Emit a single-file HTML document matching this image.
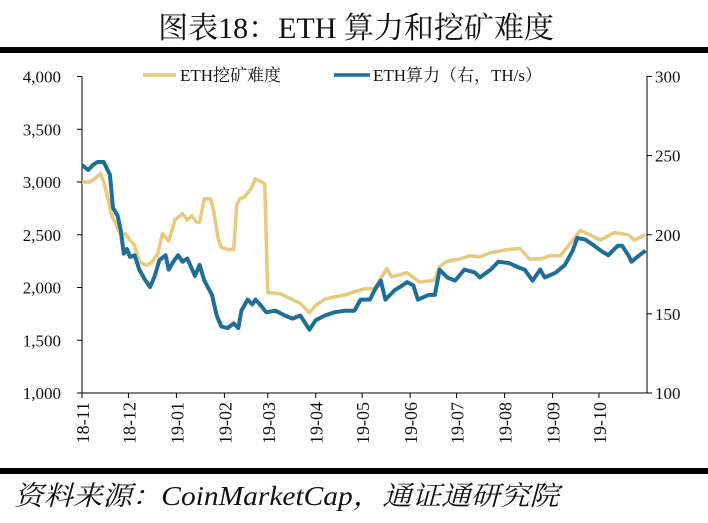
<!DOCTYPE html>
<html><head><meta charset="utf-8"><style>
html,body{margin:0;padding:0;background:#fff;}
svg{display:block;}
text{font-family:"Liberation Serif","Noto Serif CJK SC",serif;}
</style></head><body>
<svg id="chart" width="708" height="523" viewBox="0 0 708 523" xmlns="http://www.w3.org/2000/svg">
<rect x="0" y="0" width="708" height="523" fill="#fff"/>
<text x="356" y="38" text-anchor="middle" font-size="30" fill="#111">图表18：ETH 算力和挖矿难度</text>
<rect x="0" y="47" width="708" height="6" fill="#000"/>
<rect x="0" y="468" width="708" height="6" fill="#000"/>
<text x="14" y="505" font-size="27" font-style="italic" fill="#111" textLength="545" lengthAdjust="spacingAndGlyphs">资料来源：CoinMarketCap，通证通研究院</text>
<g>
<line x1="143" y1="75" x2="176" y2="75" stroke="#E8C97E" stroke-width="3.5"/>
<text x="180" y="81" font-size="17" fill="#111">ETH挖矿难度</text>
<line x1="334" y1="75" x2="370" y2="75" stroke="#1F6E9A" stroke-width="3.5"/>
<text x="373" y="81" font-size="17" fill="#111">ETH算力（右，TH/s）</text>
</g>
<g id="axes"></g>
<g id="series"></g>
</svg>
<script>
const leftTicks = [1000,1500,2000,2500,3000,3500,4000];
const rightTicks = [100,150,200,250,300];
const monthLabels = ["18-11","18-12","19-01","19-02","19-03","19-04","19-05","19-06","19-07","19-08","19-09","19-10"];
const monthDays = [0,30,61,92,120,151,181,212,242,273,304,334];
const diffDays = [0,5,9,12,14,17,19,25,28,31,34,37,42,45,49,52,56,60,65,68,71,74,76,79,83,85,88,90,94,98,100,102,105,109,112,116,118,120,123,128,134,141,147,151,157,163,170,176,183,189,197,200,210,218,228,231,236,244,251,257,264,275,283,289,296,302,309,315,322,328,335,344,353,357,364];
const diffValues = [3000,3000,3040,3080,3000,2830,2690,2500,2510,2450,2400,2240,2210,2240,2320,2510,2440,2640,2700,2640,2680,2620,2620,2840,2840,2730,2460,2380,2360,2360,2790,2840,2860,2930,3030,3000,2980,1950,1950,1940,1900,1850,1760,1830,1890,1910,1930,1960,1990,1990,2180,2100,2140,2050,2070,2200,2250,2270,2300,2290,2330,2360,2370,2270,2270,2300,2300,2410,2540,2500,2450,2520,2500,2450,2500];
const hashDays = [0,4,7,10,14,18,20,23,25,27,29,31,34,37,41,44,47,50,54,56,59,62,65,68,73,76,79,84,87,90,94,98,101,103,107,110,112,115,119,125,131,136,141,147,151,157,163,170,176,180,186,189,193,196,202,207,210,214,217,224,228,231,236,241,247,254,257,264,269,276,283,286,291,296,299,306,312,317,320,325,331,335,340,346,349,353,355,360,364];
const hashValues = [244,241,244,246,246,238,217,212,203,188,191,186,187,178,171,167,174,184,187,178,183,187,183,185,174,181,171,162,149,142,141,144,141,152,159,156,159,156,151,152,149,147,149,140,146,149,151,152,152,159,159,165,171,159,165,168,170,168,159,162,162,178,173,171,178,176,173,178,183,182,179,178,171,178,173,176,181,190,198,197,193,190,187,193,193,187,183,187,190];

const NS="http://www.w3.org/2000/svg";
const X0=82,X1=647,Y0=393,Y1=76.5,DAYS=365;
const xScale=d=>X0+(d/DAYS)*(X1-X0);
const yL=v=>Y0-(v-1000)/3000*(Y0-Y1);
const yR=v=>Y0-(v-100)/200*(Y0-Y1);
const axes=document.getElementById('axes');
const series=document.getElementById('series');
function mk(tag,attrs,parent){const e=document.createElementNS(NS,tag);for(const k in attrs)e.setAttribute(k,attrs[k]);parent.appendChild(e);return e;}

let e=mk('line',{x1:X0,y1:Y1,x2:X0,y2:Y0,stroke:'#000','stroke-width':1},axes);


e=mk('line',{x1:X1,y1:Y1,x2:X1,y2:Y0,stroke:'#000','stroke-width':1},axes);


e=mk('line',{x1:X0,y1:Y0,x2:X1,y2:Y0,stroke:'#000','stroke-width':1},axes);



leftTicks.forEach(v=>{
  const y=yL(v);
  const t=mk('line',{x1:X0-5,y1:y,x2:X0,y2:y,stroke:'#000'},axes);
  
  
  const l=mk('text',{x:61,y:y+6,'text-anchor':'end','font-size':17,fill:'#111'},axes);
  l.textContent=v.toLocaleString('en-US');
  
  
});
rightTicks.forEach(v=>{
  const y=yR(v);
  const t=mk('line',{x1:X1,y1:y,x2:X1+5,y2:y,stroke:'#000'},axes);
  
  
  const l=mk('text',{x:655,y:y+6,'font-size':17,fill:'#111'},axes);
  l.textContent=String(v);
  
  
});
monthLabels.forEach((m,i)=>{
  const x=xScale(monthDays[i]);
  const t=mk('line',{x1:x,y1:Y0,x2:x,y2:Y0+5,stroke:'#000'},axes);
  
  
  const l=mk('text',{x:0,y:0,'text-anchor':'end','font-size':18,fill:'#111',transform:`translate(${x+7},${Y0+9}) rotate(-90)`},axes);
  l.textContent=m;
  
  
});
function path(days,vals,ys){return days.map((d,i)=>(i?'L':'M')+xScale(d).toFixed(1)+','+ys(vals[i]).toFixed(1)).join(' ');}
const pd=mk('path',{d:path(diffDays,diffValues,yL),fill:'none',stroke:'#E8C97E','stroke-width':3.5,'stroke-linejoin':'round'},series);


const ph=mk('path',{d:path(hashDays,hashValues,yR),fill:'none',stroke:'#1F6E9A','stroke-width':4,'stroke-linejoin':'round'},series);


</script>
</body></html>
